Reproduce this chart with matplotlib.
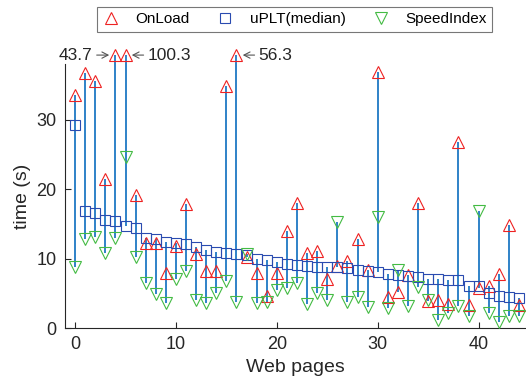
import numpy as np
import matplotlib
matplotlib.use('Agg')
import matplotlib.pyplot as plt

# time (s) per web page, pages sorted by median uPLT
onload = [33.5, 36.7, 35.5, 21.5, 43.7, 100.3, 19.1, 12.3, 12.3, 7.9,
          11.8, 17.9, 10.7, 8.2, 8.2, 34.8, 56.3, 10.2, 7.9, 4.6,
          7.9, 14.0, 18.0, 10.8, 11.1, 7.0, 8.9, 9.7, 12.8, 8.3,
          36.8, 4.5, 5.2, 7.6, 18.0, 3.9, 4.1, 3.4, 26.8, 3.3,
          5.8, 6.0, 7.8, 14.8, 3.3]
uplt = [29.2, 16.9, 16.6, 15.6, 15.4, 14.7, 14.4, 12.9, 12.8, 12.4,
        12.3, 12.1, 11.7, 11.2, 11.0, 10.8, 10.6, 10.5, 9.9, 9.8,
        9.5, 9.2, 9.1, 8.9, 8.8, 8.8, 8.8, 8.7, 8.3, 8.2,
        8.1, 7.8, 7.6, 7.5, 7.3, 7.1, 7.0, 6.9, 6.9, 6.0,
        6.0, 5.1, 4.6, 4.5, 4.3]
speed = [8.8, 12.8, 13.1, 10.8, 12.9, 24.6, 10.2, 6.5, 4.9, 3.6,
         7.0, 8.2, 4.0, 3.6, 5.1, 6.8, 3.7, 10.7, 3.6, 3.8,
         5.5, 5.7, 6.5, 3.4, 5.1, 4.0, 15.3, 3.8, 4.4, 3.0,
         16.0, 2.9, 8.4, 3.1, 5.9, 4.0, 1.2, 2.2, 3.1, 1.7,
         16.8, 2.2, 0.9, 1.7, 1.7]

ymax = 38
cap = 39.3  # clipped values drawn just above the axis top

plt.rcParams['font.family'] = ['Liberation Sans', 'DejaVu Sans']
txt = '#262626'

x = np.arange(len(uplt))
on = np.array(onload)
on_shown = np.minimum(on, cap)
allv = np.vstack([on_shown, uplt, speed])

fig = plt.figure(figsize=(5.26, 3.83), dpi=100)
ax = fig.add_axes([0.1236, 0.1436, 0.8764, 0.689])

ax.vlines(x, allv.min(axis=0), allv.max(axis=0), color='#1f78c4',
          lw=1.3, zorder=1, clip_on=False)
ax.plot(x, on_shown, ls='none', marker='^', ms=8.5, mfc='none',
        mec='#ee2222', mew=0.8, label='OnLoad', clip_on=False, zorder=3)
ax.plot(x, uplt, ls='none', marker='s', ms=6.5, mfc='none',
        mec='#2a4bb0', mew=0.8, label='uPLT(median)', zorder=3)
ax.plot(x, speed, ls='none', marker='v', ms=8.5, mfc='none',
        mec='#44bb44', mew=0.8, label='SpeedIndex', clip_on=False, zorder=3)

# labels for values outside the axis
arrow = dict(arrowstyle='->,head_length=0.35,head_width=0.18', color='#555555',
             lw=0.8, shrinkA=1, shrinkB=4.5)
for i, v in enumerate(onload):
    if v > ymax:
        if i == 4:
            ax.annotate('%.1f' % v, (i, cap), xytext=(-16.5, 0),
                        textcoords='offset points', ha='right', va='center',
                        fontsize=12.5, color=txt, annotation_clip=False,
                        arrowprops=arrow)
        else:
            ax.annotate('%.1f' % v, (i, cap), xytext=(16, 0),
                        textcoords='offset points', ha='left', va='center',
                        fontsize=12.5, color=txt, annotation_clip=False,
                        arrowprops=arrow)

ax.set_xlim(-1, 44.7)
ax.set_ylim(0, ymax)
ax.set_xticks([0, 10, 20, 30, 40])
ax.set_yticks([0, 10, 20, 30])
ax.spines['top'].set_visible(False)
ax.spines['right'].set_visible(False)
for s in ['left', 'bottom']:
    ax.spines[s].set_color(txt)
ax.tick_params(direction='in', length=4, labelsize=13, colors=txt, pad=6)
ax.set_xlabel('Web pages', fontsize=14, color=txt, labelpad=4)
ax.set_ylabel('time (s)', fontsize=14, color=txt, labelpad=4)

leg = fig.legend(loc='upper left', bbox_to_anchor=(0.184, 0.982), ncol=3,
                 numpoints=1, fontsize=11, frameon=True, fancybox=False,
                 edgecolor='#555555', handlelength=1.2, handletextpad=1.0,
                 columnspacing=1.7, borderpad=0.35, borderaxespad=0)
leg.get_frame().set_linewidth(0.8)

fig.savefig('out.png', dpi=100)
